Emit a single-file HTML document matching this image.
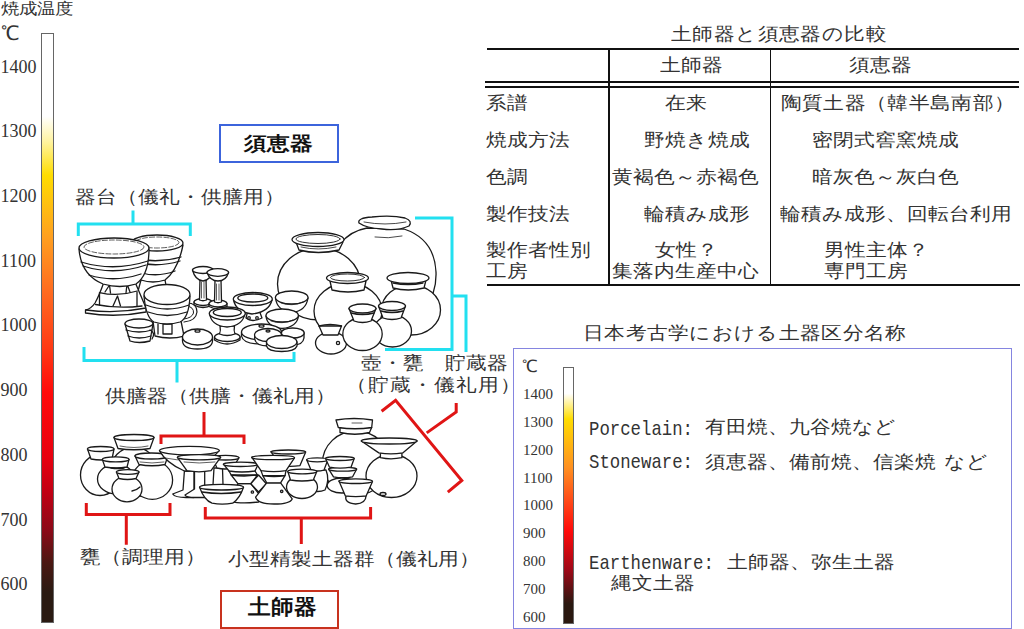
<!DOCTYPE html>
<html lang="ja"><head><meta charset="utf-8">
<style>
html,body{margin:0;padding:0;background:#fff;}
#c{position:relative;width:1024px;height:629px;overflow:hidden;background:#fff;font-family:"Liberation Serif",serif;color:#333;}
.t{position:absolute;white-space:nowrap;line-height:1;}
.ln{position:absolute;background:#111;}
.j{transform:scaleY(0.87);}
svg{position:absolute;left:0;top:0;}
.lat{font-family:"Liberation Mono",monospace;font-size:21px;transform:scaleX(0.8254);transform-origin:0 0;}
</style></head><body><div id="c">
<!-- temperature axis -->
<div class="t j" style="left:1px;top:0px;font-size:18px">焼成温度</div>
<div class="t" style="left:1px;top:23px;font-size:20px">℃</div>
<div class="t" style="left:0.6px;top:57.5px;font-size:18px">1400</div>
<div class="t" style="left:0.6px;top:122.2px;font-size:18px">1300</div>
<div class="t" style="left:0.6px;top:186.9px;font-size:18px">1200</div>
<div class="t" style="left:0.6px;top:251.7px;font-size:18px">1100</div>
<div class="t" style="left:0.6px;top:316.4px;font-size:18px">1000</div>
<div class="t" style="left:0.6px;top:381.1px;font-size:18px">900</div>
<div class="t" style="left:0.6px;top:445.8px;font-size:18px">800</div>
<div class="t" style="left:0.6px;top:510.5px;font-size:18px">700</div>
<div class="t" style="left:0.6px;top:575.3px;font-size:18px">600</div>
<div style="position:absolute;left:41px;top:33px;width:11px;height:588px;border:1px solid #666;background:linear-gradient(#fff 0%,#fff 14%,#fff3a0 18.3%,#ffdd00 24%,#ffa020 34.4%,#ff6a20 44%,#ff3a14 53.4%,#ff0a0a 61%,#e8000f 72%,#c00014 78%,#8a0a18 84.5%,#4a1812 90%,#2a1a12 95%,#2a1a12 100%);"></div>

<!-- comparison table -->
<div class="t j" style="left:671px;top:24px;font-size:21px;letter-spacing:0.4px">土師器と須恵器の比較</div>
<div class="ln" style="left:487px;top:48px;width:532px;height:2px"></div>
<div class="ln" style="left:485px;top:81.4px;width:534px;height:1.6px"></div>
<div class="ln" style="left:485px;top:86.4px;width:534px;height:2px"></div>
<div class="ln" style="left:487px;top:284px;width:533px;height:2px"></div>
<div class="ln" style="left:608px;top:48px;width:1.5px;height:237px"></div>
<div class="ln" style="left:769.5px;top:48px;width:1.5px;height:237px"></div>
<div class="t j" style="left:660px;top:55px;font-size:21px">土師器</div>
<div class="t j" style="left:849px;top:55px;font-size:21px">須恵器</div>
<div class="t j" style="left:486px;top:93px;font-size:21px">系譜</div>
<div class="t j" style="left:665px;top:93px;font-size:21px">在来</div>
<div class="t j" style="left:780.5px;top:93px;font-size:21px;letter-spacing:0.35px">陶質土器（韓半島南部）</div>
<div class="t j" style="left:486px;top:130px;font-size:21px">焼成方法</div>
<div class="t j" style="left:644px;top:130px;font-size:21px">野焼き焼成</div>
<div class="t j" style="left:812px;top:130px;font-size:21px">密閉式窖窯焼成</div>
<div class="t j" style="left:486px;top:167px;font-size:21px">色調</div>
<div class="t j" style="left:612px;top:167px;font-size:21px">黄褐色～赤褐色</div>
<div class="t j" style="left:812px;top:167px;font-size:21px">暗灰色～灰白色</div>
<div class="t j" style="left:486px;top:204px;font-size:21px">製作技法</div>
<div class="t j" style="left:644px;top:204px;font-size:21px">輪積み成形</div>
<div class="t j" style="left:780px;top:204px;font-size:21px">輪積み成形、回転台利用</div>
<div class="t j" style="left:486px;top:240px;font-size:21px">製作者性別</div>
<div class="t j" style="left:486px;top:261px;font-size:21px">工房</div>
<div class="t j" style="left:655px;top:240px;font-size:21px">女性？</div>
<div class="t j" style="left:612px;top:261px;font-size:21px">集落内生産中心</div>
<div class="t j" style="left:824px;top:240px;font-size:21px">男性主体？</div>
<div class="t j" style="left:824px;top:261px;font-size:21px">専門工房</div>

<!-- classification box -->
<div class="t j" style="left:583px;top:322.5px;font-size:21px;letter-spacing:0.3px">日本考古学における土器区分名称</div>
<div style="position:absolute;left:513px;top:347.5px;width:497px;height:279px;border:1.5px solid #8585e0"></div>
<div class="t" style="left:522px;top:358px;font-size:17px">℃</div>
<div class="t" style="left:523px;top:387px;font-size:15px">1400</div>
<div class="t" style="left:523px;top:415px;font-size:15px">1300</div>
<div class="t" style="left:523px;top:443px;font-size:15px">1200</div>
<div class="t" style="left:523px;top:471px;font-size:15px">1100</div>
<div class="t" style="left:523px;top:498px;font-size:15px">1000</div>
<div class="t" style="left:523px;top:526px;font-size:15px">900</div>
<div class="t" style="left:523px;top:554px;font-size:15px">800</div>
<div class="t" style="left:523px;top:582px;font-size:15px">700</div>
<div class="t" style="left:523px;top:610px;font-size:15px">600</div>
<div style="position:absolute;left:563px;top:367px;width:9px;height:255px;border:1px solid #666;background:linear-gradient(#fff 0%,#fff 10%,#ffdd00 20%,#ff9020 39%,#ff4a18 52%,#ff0a0a 64%,#a00818 79%,#2a1810 92.5%,#2a1810 100%);"></div>
<div class="t lat" style="left:589px;top:418.5px">Porcelain:</div>
<div class="t j" style="left:705px;top:417px;font-size:21px">有田焼、九谷焼など</div>
<div class="t lat" style="left:589px;top:452px">Stoneware:</div>
<div class="t j" style="left:705px;top:452px;font-size:21px">須恵器、備前焼、信楽焼<span style="display:inline-block;width:8px"></span>など</div>
<div class="t lat" style="left:589px;top:552.5px">Earthenware:</div>
<div class="t j" style="left:727px;top:552px;font-size:21px">土師器、弥生土器</div>
<div class="t j" style="left:611px;top:573px;font-size:21px">縄文土器</div>

<!-- diagram labels -->
<div style="position:absolute;left:218.5px;top:124px;width:116.5px;height:34.5px;border:2px solid #3c64dc"></div>
<div class="t" style="left:243.7px;top:134.4px;font-size:23px;font-weight:bold;font-family:'Liberation Sans',sans-serif;color:#111;transform:scaleY(0.84);transform-origin:0 0">須恵器</div>
<div class="t j" style="left:75.4px;top:187.3px;font-size:21px">器台（儀礼・供膳用）</div>
<div class="t j" style="left:105.3px;top:386px;font-size:21px">供膳器（供膳・儀礼用）</div>
<div class="t j" style="left:360.5px;top:353px;font-size:21px">壺・甕　貯蔵器</div>
<div class="t j" style="left:346px;top:375px;font-size:21px;letter-spacing:1px">（貯蔵・儀礼用）</div>
<div class="t j" style="left:80.2px;top:547.3px;font-size:21px">甕（調理用）</div>
<div class="t j" style="left:228.4px;top:548.5px;font-size:21px">小型精製土器群（儀礼用）</div>
<div style="position:absolute;left:220.3px;top:590.3px;width:115px;height:35px;border:2px solid #c8321e"></div>
<div class="t" style="left:247.6px;top:596.4px;font-size:23px;font-weight:bold;font-family:'Liberation Sans',sans-serif;color:#111;transform:scaleY(0.93);transform-origin:0 0">土師器</div>

<svg width="1024" height="629" viewBox="0 0 1024 629" id="art">
<g id="pots" fill="#fff" stroke="#1a1a1a" stroke-width="1.3" stroke-linejoin="round" stroke-linecap="round">
<!-- ===== SUE storage ===== -->
<!-- jug big back -->
<path d="M367 228C345 232 330 250 332 275C334 305 360 322 391 322C420 322 437 300 436 272C435 250 425 236 404 229Z"/>
<path d="M359 223Q357 218 372 217Q392 215 405 218Q413 221 409 226Q398 231 382 229Q366 228 359 223Z"/>
<path d="M364 222Q385 226 406 222" fill="none" stroke-width="0.8"/>
<path d="M375 237Q388 239 402 236" fill="none" stroke-width="0.8"/>
<!-- jar2 back left -->
<ellipse cx="319" cy="284" rx="41.5" ry="36"/>
<path d="M296 242L299 250Q318 255 339 250L343 242Z"/>
<ellipse cx="318" cy="239.5" rx="26" ry="7"/>
<ellipse cx="318" cy="239" rx="22" ry="4.5" fill="none" stroke-width="0.9"/>
<path d="M301 247Q318 251 336 247" fill="none" stroke-width="0.8"/>
<!-- jar4 right front -->
<ellipse cx="411" cy="310" rx="29.5" ry="25"/>
<path d="M391 280L393 288Q408 292 424 288L426 280Z"/>
<ellipse cx="408" cy="278" rx="21" ry="5.5"/>
<path d="M393 283Q408 286 423 283" fill="none"/>
<!-- jar3 center -->
<ellipse cx="348" cy="311" rx="34" ry="28"/>
<path d="M330 281L332 290Q348 294 364 290L366 281Z"/>
<ellipse cx="347.5" cy="278" rx="21" ry="5.5"/>
<ellipse cx="347.5" cy="277.5" rx="17" ry="3.5" fill="none" stroke-width="0.9"/>
<!-- lying jar -->
<ellipse cx="331" cy="343" rx="15.5" ry="11"/>
<path d="M319 326L323 335L338 335L341.5 326Z"/>
<path d="M319 326Q330 323 341.5 326" fill="none"/>
<circle cx="338" cy="343" r="1.6"/>
<!-- small jar6 -->
<ellipse cx="392.5" cy="331" rx="19" ry="16"/>
<path d="M378.5 306L383 318Q392 321 401 318L405.5 306Z"/>
<ellipse cx="392" cy="306" rx="13.5" ry="4.5"/>
<path d="M381 311Q392 314 403 311" fill="none"/>
<!-- small jar5 -->
<ellipse cx="362.5" cy="334" rx="19.7" ry="16.5"/>
<path d="M349 308.5L354 321Q362.5 324 371 321L376 308.5Z"/>
<ellipse cx="362.5" cy="308.5" rx="13.5" ry="4.5"/>
<path d="M351 313Q362.5 316 374 313" fill="none"/>

<!-- ===== SUE offering ===== -->
<!-- back stand -->
<path d="M141 280L134 306L170 306L165 280Z"/>
<path d="M131 245Q133 271 141 280Q153 284 165 280Q178 270 183 245Z"/>
<ellipse cx="157" cy="243" rx="26" ry="8"/>
<ellipse cx="157" cy="242.5" rx="22" ry="5.5" fill="none" stroke-width="0.7" stroke-dasharray="5 2"/>
<path d="M133 258Q157 264 181 257M135 262Q157 268 180 261M138 272Q157 278 175 271" fill="none"/>
<!-- front stand -->
<path d="M104 282Q99 296 95 303Q91 309 85.5 310L85.5 313Q116 318 146 312L146 308L135 282Z"/>
<path d="M99.5 292.6Q118 297 137.2 291M95.5 304.5Q118 309 142 306M86 310Q116 314 146 308" fill="none"/>
<path d="M105 292L109.5 285L110.5 293M126 293L127 284L130 292M99.5 293V305M113 306L117.5 296L120.5 306M137 292V306" fill="none"/>
<path d="M79 249Q81 275 103 284Q120 289 136 284Q149 275 149 249Z"/>
<ellipse cx="114" cy="248" rx="35" ry="10"/>
<ellipse cx="114" cy="247" rx="30" ry="7" fill="none" stroke-width="0.7" stroke-dasharray="5 2"/>
<path d="M81 262Q114 272 148 261M83 266Q114 276 146 265M89 275Q114 283 141 274" fill="none"/>
<!-- tall stemmed cups -->
<path d="M194 302V305Q203 310 212 305V302Z"/>
<ellipse cx="203" cy="302" rx="9" ry="3.5"/>
<path d="M200 278L199.5 300Q203 301.5 206.5 300L206 278Z"/>
<path d="M201.5 282V298M204 282V298" fill="none" stroke-width="0.7"/>
<path d="M192.5 270Q195 280 203 281Q211 280 213.5 270Z"/>
<ellipse cx="203" cy="270" rx="10.5" ry="3.5"/>
<path d="M209 303.5V306.5Q218 311 227 306.5V303.5Z"/>
<ellipse cx="218" cy="303.5" rx="9" ry="3.5"/>
<path d="M215 280L214.5 302Q218 303.5 221.5 302L221 280Z"/>
<path d="M216.5 284V300M219 284V300" fill="none" stroke-width="0.7"/>
<path d="M207 272.5Q210 281 218 281Q226 281 228.5 272.5Z"/>
<ellipse cx="217.8" cy="272.5" rx="10.8" ry="3.8"/>
<!-- stemmed bowl 2 -->
<path d="M248 310L246 318Q252 323 262 318L259 310Z"/>
<path d="M233.5 300Q236 312 252 314Q269 312 272 300Z"/>
<ellipse cx="252.8" cy="299" rx="19.5" ry="6.5"/>
<ellipse cx="252.8" cy="298" rx="15" ry="4" fill="none"/>
<circle cx="249" cy="318" r="1.3"/><circle cx="257" cy="318" r="1.3"/>
<!-- back right bowl -->
<path d="M275.5 298Q277 311 292 312.5Q306 311 308 298Z"/>
<ellipse cx="291.7" cy="297.5" rx="16.3" ry="6.5"/>
<path d="M281 303Q292 307 303 302" fill="none" stroke-width="0.8"/>
<!-- bowl 2 -->
<path d="M266 316Q267 327 282 328.5Q297 327 298.5 316Z"/>
<ellipse cx="282.2" cy="315.5" rx="16.2" ry="6.5"/>
<path d="M271 321Q282 325 293 320" fill="none" stroke-width="0.8"/>
<!-- small cup front left -->
<path d="M125 324L130 341Q139 344 150 341L153 324Z"/>
<ellipse cx="139" cy="323.5" rx="14" ry="4.5"/>
<path d="M126 330Q139 334 152 330M128 336Q139 340 151 336" fill="none"/>
<path d="M150 330Q156 333 152 339" fill="none"/>
<!-- cup with handle -->
<path d="M153 321L155 336Q170 340 184 336L181 321Z"/>
<path d="M158 324V334M163 324H172V334H163Z" fill="none"/>
<path d="M187 303Q197 303 197 312Q196 321 184 322" fill="none" stroke-width="1.2"/><path d="M187 306Q194 307 193.5 313Q192 318 184 319" fill="none" stroke-width="1"/>
<path d="M144 296Q146 318 154 322Q167 326 180 322Q189 318 190 296Z"/>
<ellipse cx="167" cy="294.5" rx="23" ry="10"/>
<path d="M146 305Q167 313 189 305M148 312Q167 319 187 312" fill="none"/>
<!-- stemmed bowl center -->
<path d="M214.5 337V340Q227 348 240 340V337Z"/><ellipse cx="227.3" cy="337" rx="12.8" ry="4.5"/><path d="M220 326Q221 331 219.5 334Q227 337 235 334Q233.5 331 234.5 326Z"/>
<path d="M209.5 313Q211 326 227 327Q243 326 245 313Z"/>
<ellipse cx="227.3" cy="313.5" rx="18" ry="6.5"/>
<ellipse cx="227.3" cy="312.5" rx="14" ry="4" fill="none"/>
<!-- lids -->
<path d="M182.5 337V341Q183 349 197.5 349Q212 349 212.5 341V337Z"/>
<ellipse cx="197.5" cy="337" rx="15" ry="8"/>
<ellipse cx="197.5" cy="331" rx="2.5" ry="1.2"/>
<path d="M281.5 333V338Q283 345 293 345Q303 345 304 338V333Z"/>
<ellipse cx="292.7" cy="333" rx="11.5" ry="5"/>
<path d="M241.5 332V336Q243 344 261.5 344Q280 344 281.5 336V332Z"/>
<ellipse cx="261.5" cy="332" rx="20" ry="8"/>
<ellipse cx="261.5" cy="326" rx="2.5" ry="1.2"/>
<path d="M254.7 335V339Q256 346 268 346Q280 346 281.5 339V335Z"/>
<ellipse cx="268" cy="335" rx="13.5" ry="6.5"/>
<ellipse cx="268" cy="331" rx="2" ry="1"/>
<path d="M266.5 342V346Q268 351.5 281.7 351.5Q295 351.5 297 346V342Z"/>
<ellipse cx="281.7" cy="342" rx="15.2" ry="6.5"/>

<!-- ===== HAJI ===== -->
<!-- big jar back -->
<ellipse cx="356" cy="463" rx="33.5" ry="32"/>
<path d="M340 427.5L340 432.5Q355 436 369.5 432.5L371.7 427.5Z"/>
<path d="M336 420L338.3 427.5Q355 430 371.7 427.5L372.5 420Q354 417 336 420Z"/>
<path d="M352 423H362" fill="none" stroke-width="0.7"/>
<!-- funnel jar -->
<ellipse cx="391.5" cy="476" rx="25.5" ry="21.5"/>
<path d="M380.4 452.9V457.7Q391 460 401.9 457.7V452.9Z"/>
<path d="M361.3 441L378.8 452.9Q391 455 402.7 452.9L417 441Z"/>
<ellipse cx="389.2" cy="441" rx="27.9" ry="3"/>
<ellipse cx="383" cy="494" rx="3" ry="1.5" fill="none"/>
<!-- pot A -->
<ellipse cx="100" cy="475" rx="19.5" ry="20.5"/>
<path d="M87.5 449L91 459Q101 461 112 459L114 449Z"/>
<ellipse cx="100.7" cy="449" rx="13.3" ry="2.5"/>
<!-- pot B -->
<ellipse cx="134" cy="472" rx="24" ry="25"/>
<path d="M114 437.5L118 448.5Q134 451 150 448.5L154 437.5Z"/>
<ellipse cx="134" cy="437.5" rx="20" ry="3"/>
<path d="M120 446Q134 449 148 446" fill="none" stroke-width="0.7"/>
<!-- pot C -->
<ellipse cx="116" cy="479" rx="18.5" ry="15"/>
<path d="M102.3 459.4L105 467Q116 469 127 467L129 459.4Z"/>
<ellipse cx="115.7" cy="459.4" rx="13.4" ry="2.5"/>
<path d="M111 468Q118 469 124 468" fill="none"/>
<!-- pot E -->
<ellipse cx="152.3" cy="480" rx="20.3" ry="19.3"/>
<path d="M135 456L139 464.5Q152 467 165 464.5L168 456Z"/>
<ellipse cx="151.5" cy="456" rx="16.5" ry="3"/>
<path d="M140 462Q152 464 164 462" fill="none" stroke-width="0.7"/>
<!-- pot D -->
<ellipse cx="127" cy="489" rx="15" ry="12.8"/>
<path d="M116.4 472L119 478.5Q127.5 480.5 136 478.5L139 472Z"/>
<ellipse cx="127.7" cy="472" rx="11.3" ry="2.3"/>
<path d="M132 491Q137 490 140 487" fill="none"/>
<!-- big shallow stemmed bowl back -->
<path d="M184.4 471L183 490L172.7 494Q175 497.5 186 497.5L194 497.5L194 471Z"/>
<path d="M159.5 450.6Q166 463 184.4 471L200 471L219.3 450.6Z"/>
<path d="M165 458Q189 463 214 457" fill="none" stroke-width="0.7"/>
<ellipse cx="189.4" cy="450.6" rx="29.9" ry="4.2"/>
<!-- back right stemmed bowl -->
<path d="M214 468L213 484.7Q218 486 223 484.7L222.5 468Z"/>
<path d="M212.3 457.7L217 468Q225 470 233 468L239 457.7Z"/>
<ellipse cx="225.6" cy="457.7" rx="13.4" ry="2.3"/>
<!-- stemmed cup front -->
<path d="M194.5 470.7L194.5 489L185 495Q186 497.5 195 497.5L206 497.5L204.7 489L204.7 470.7Z"/>
<path d="M177.4 457.3L186.9 470.7Q199 473 211 470.7L220.6 457.3Z"/>
<ellipse cx="199" cy="457.3" rx="21.6" ry="2.6"/>
<path d="M184 462Q199 464 215 462" fill="none" stroke-width="0.7"/>
<!-- left hourglass -->
<path d="M237.9 483.7L231.2 501.3Q240 504 258.6 502L258.6 493.5L250.8 483.7Z"/>
<path d="M231.2 475L237.9 483.7L250.8 483.7L257.5 475Z"/>
<path d="M223.4 464.1L229 471Q242 473 255 471L258 464.6Z"/>
<ellipse cx="240.7" cy="464.3" rx="17.3" ry="2.2"/>
<path d="M229 471L231.2 475Q244 477 257.5 475L255 471" fill="none"/>
<circle cx="252.4" cy="492" r="1.2"/>
<!-- front bowl -->
<path d="M199.6 487.2Q204 500 212 503.2Q222 505 232.7 503.2Q240 498 243.5 487.2Z"/>
<ellipse cx="221.5" cy="487.2" rx="22" ry="2.8"/>
<path d="M202 492Q221 495 241 492" fill="none"/>
<!-- diamond connector -->
<path d="M258.6 475L250.8 483.7L258.6 492L266.3 483.7Z"/>
<!-- back bowl center -->
<path d="M271 451.7L280 465.6Q290 467 300 465.6L305.6 452.2Z"/>
<ellipse cx="288.3" cy="452" rx="17.3" ry="2"/>
<!-- center hourglass -->
<path d="M266.7 482.8L255.6 497.2Q258 504 274 504Q290 504 292.2 498.9L280.6 482.8Z"/>
<path d="M262.8 475.6L266.7 482.8L280.6 482.8L285 475.6Z"/>
<path d="M251.7 457.2L261 470.6Q274 472.5 286 470.6L294.5 457.8Z"/>
<ellipse cx="273.1" cy="457.5" rx="21.4" ry="2.2"/>
<path d="M261 470.6L262.8 475.6Q274 477.5 285 475.6L286 470.6" fill="none"/>
<circle cx="281.7" cy="491.3" r="1.2"/>
<!-- pot behind right -->
<path d="M309 470Q304 480 310 490Q318 493 325 490Q330 480 326 470Z"/>
<path d="M306.7 459.7L311 470Q317 472 324 470L327.8 460Z"/>
<ellipse cx="317.2" cy="459.8" rx="10.5" ry="2"/>
<!-- front pot center-right -->
<ellipse cx="302" cy="487" rx="15.5" ry="11.5"/>
<path d="M287.8 471.3L290.5 480Q302 482 313.3 480L316.7 471.7Z"/>
<ellipse cx="302.2" cy="471.5" rx="14.5" ry="2.3"/>
<!-- stacked bowl vessel -->
<ellipse cx="341.9" cy="485.5" rx="14.7" ry="7.5"/>
<path d="M328.7 469.2L333.5 476.8Q343 478.5 352.6 476.8L356.6 469.2Z"/>
<ellipse cx="342.6" cy="469.2" rx="14" ry="2"/>
<path d="M325.6 458.5L329.5 467.2Q340 469 351 467.2L354.2 458.5Z"/>
<ellipse cx="339.9" cy="458.5" rx="14.3" ry="2"/>
<!-- front small cup -->
<path d="M346 495.9Q344 503 355.7 504Q366 503 366 495.9Z"/>
<path d="M339 481L345.4 495.9Q355.7 497.5 366.1 495.9L372.5 481.5Z"/>
<ellipse cx="355.7" cy="481.2" rx="16.7" ry="2.3"/>
</g>

<g fill="none" stroke="#22e0f0" stroke-width="3" stroke-linecap="butt">
<path d="M78.3 236V224H190.3V236M133 224V210.5"/>
<path d="M84 347V360.5H294V352M177 360.5V382.5"/>
<path d="M415 218H452V349.5H385M452 296H466V352"/>
</g>
<g fill="none" stroke="#e01515" stroke-width="3">
<path d="M161 444V436H244V444M204 436V412"/>
<path d="M86.3 503V514.5H170V503M126.3 514.5V544.7"/>
<path d="M205.3 507V518H370.6V507M301.3 518V544"/>
<path d="M381.6 411.2L395.6 400.3L461.8 480.5L447.8 492.2M426.7 432.9L456.2 412V403"/>
</g>
</svg>
</div></body></html>
